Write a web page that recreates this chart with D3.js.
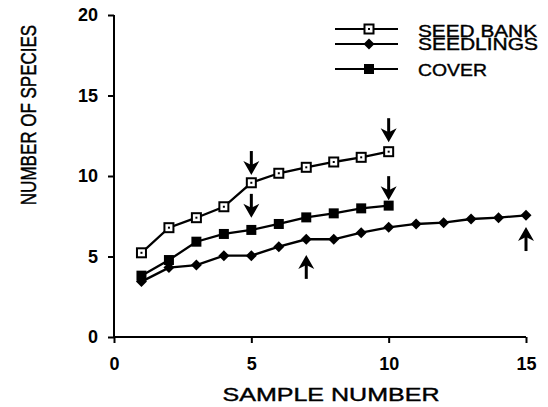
<!DOCTYPE html>
<html><head><meta charset="utf-8">
<script src="https://cdn.jsdelivr.net/npm/d3@7"></script>
<style>body{margin:0;background:#fff}svg{display:block}text{font-family:"Liberation Sans",Arial,sans-serif;fill:#000}</style>
</head><body><svg id="c" width="548" height="407"></svg>
<script>
const seedBankX = [1,2,3,4,5,6,7,8,9,10];
const seedBank = [5.23,6.79,7.41,8.09,9.58,10.17,10.54,10.87,11.16,11.51];
const coverX = [1,2,3,4,5,6,7,8,9,10];
const cover = [3.81,4.78,5.92,6.40,6.65,7.02,7.43,7.68,7.99,8.16];
const seedlingsX = [1,2,3,4,5,6,7,8,9,10,11,12,13,14,15];
const seedlings = [3.44,4.31,4.47,5.05,5.05,5.61,6.07,6.07,6.48,6.81,7.02,7.10,7.33,7.41,7.56];
const xTicks = [0,5,10,15];
const yTicks = [0,5,10,15,20];
const legendLabels = ["SEED BANK","SEEDLINGS","COVER"];
// arrow annotations: x value, tip y value, direction
const arrowX = [5,10,5,10,7,15];
const arrowTipY = [10.06,12.1,7.4,8.5,5.1,6.83];
const arrowDir = ["down","down","down","down","up","up"];

const svg = d3.select("#c");
const x = d3.scaleLinear().domain([0,15]).range([114,526]);
const y = d3.scaleLinear().domain([0,20]).range([337,15]);

const xAxis = svg.append("g").attr("transform","translate(0,337)")
  .call(d3.axisBottom(x).tickValues(xTicks).tickSize(6).tickPadding(14));
const yAxis = svg.append("g").attr("transform","translate(114,0)")
  .call(d3.axisLeft(y).tickValues(yTicks).tickSize(6).tickPadding(10));
[xAxis,yAxis].forEach(g=>{
  g.select(".domain").attr("stroke","#000").attr("stroke-width",2);
  g.selectAll(".tick line").attr("stroke","#000").attr("stroke-width",2);
  g.selectAll(".tick text").attr("font-size",18).attr("font-weight","bold")
    .attr("font-family","'Liberation Sans',Arial,sans-serif").attr("fill","#000");
});
yAxis.select(".domain").attr("d","M0,"+y(20)+"V"+y(0));
xAxis.select(".domain").attr("d","M"+x(0)+",0H"+x(15));

svg.append("text").attr("x",331).attr("y",401).attr("text-anchor","middle")
  .attr("font-size",18).attr("textLength",217).attr("lengthAdjust","spacingAndGlyphs")
  .attr("stroke","#000").attr("stroke-width",0.4)
  .text("SAMPLE NUMBER");
svg.append("text").attr("transform","translate(36,115) scale(1.3,1) rotate(-90)").attr("text-anchor","middle")
  .attr("font-size",17).attr("stroke","#000").attr("stroke-width",0.35).text("NUMBER OF SPECIES");

const line = d3.line().x(d=>x(d[0])).y(d=>y(d[1]));
const series = [
  {xs:seedBankX, ys:seedBank, m:"open"},
  {xs:seedlingsX, ys:seedlings, m:"diamond"},
  {xs:coverX, ys:cover, m:"square"}
];
function marker(g, cx, cy, m){
  if(m==="open"){
    g.append("rect").attr("x",cx-4.5).attr("y",cy-4.5).attr("width",9).attr("height",9)
      .attr("fill","#fff").attr("stroke","#000").attr("stroke-width",2);
    g.append("rect").attr("x",cx-1).attr("y",cy-1).attr("width",2).attr("height",2).attr("fill","#000");
  } else if(m==="square"){
    g.append("rect").attr("x",cx-5).attr("y",cy-5).attr("width",10).attr("height",10).attr("fill","#000");
  } else {
    g.append("path").attr("d",`M${cx},${cy-5.5}L${cx+5.5},${cy}L${cx},${cy+5.5}L${cx-5.5},${cy}Z`).attr("fill","#000");
  }
}
series.forEach(s=>{
  const pts = s.xs.map((v,i)=>[v,s.ys[i]]);
  svg.append("path").attr("d",line(pts)).attr("fill","none").attr("stroke","#000").attr("stroke-width",2.3);
  const g = svg.append("g");
  pts.forEach(p=>marker(g,x(p[0]),y(p[1]),s.m));
});

// legend
const legY = [29,44,69];
const legBase = [37,49.5,76];
const legLen = [119,120,69];
series.forEach((s,i)=>{
  svg.append("line").attr("x1",335).attr("x2",398).attr("y1",legY[i]).attr("y2",legY[i])
    .attr("stroke","#000").attr("stroke-width",2);
  marker(svg,369,legY[i],s.m);
  svg.append("text").attr("x",418).attr("y",legBase[i]).attr("font-size",17)
    .attr("stroke","#000").attr("stroke-width",0.4)
    .attr("textLength",legLen[i]).attr("lengthAdjust","spacingAndGlyphs").text(legendLabels[i]);
});

// arrows
arrowX.forEach((ax,i)=>{
  const cx = x(ax), ty = y(arrowTipY[i]);
  const s = arrowDir[i]==="down" ? -1 : 1;
  const len = 24;
  svg.append("line").attr("x1",cx).attr("x2",cx).attr("y1",ty+s*8).attr("y2",ty+s*len)
    .attr("stroke","#000").attr("stroke-width",3);
  svg.append("path").attr("d",`M${cx},${ty}L${cx+8},${ty+s*14}L${cx},${ty+s*10}L${cx-8},${ty+s*14}Z`).attr("fill","#000");
});
</script></body></html>
